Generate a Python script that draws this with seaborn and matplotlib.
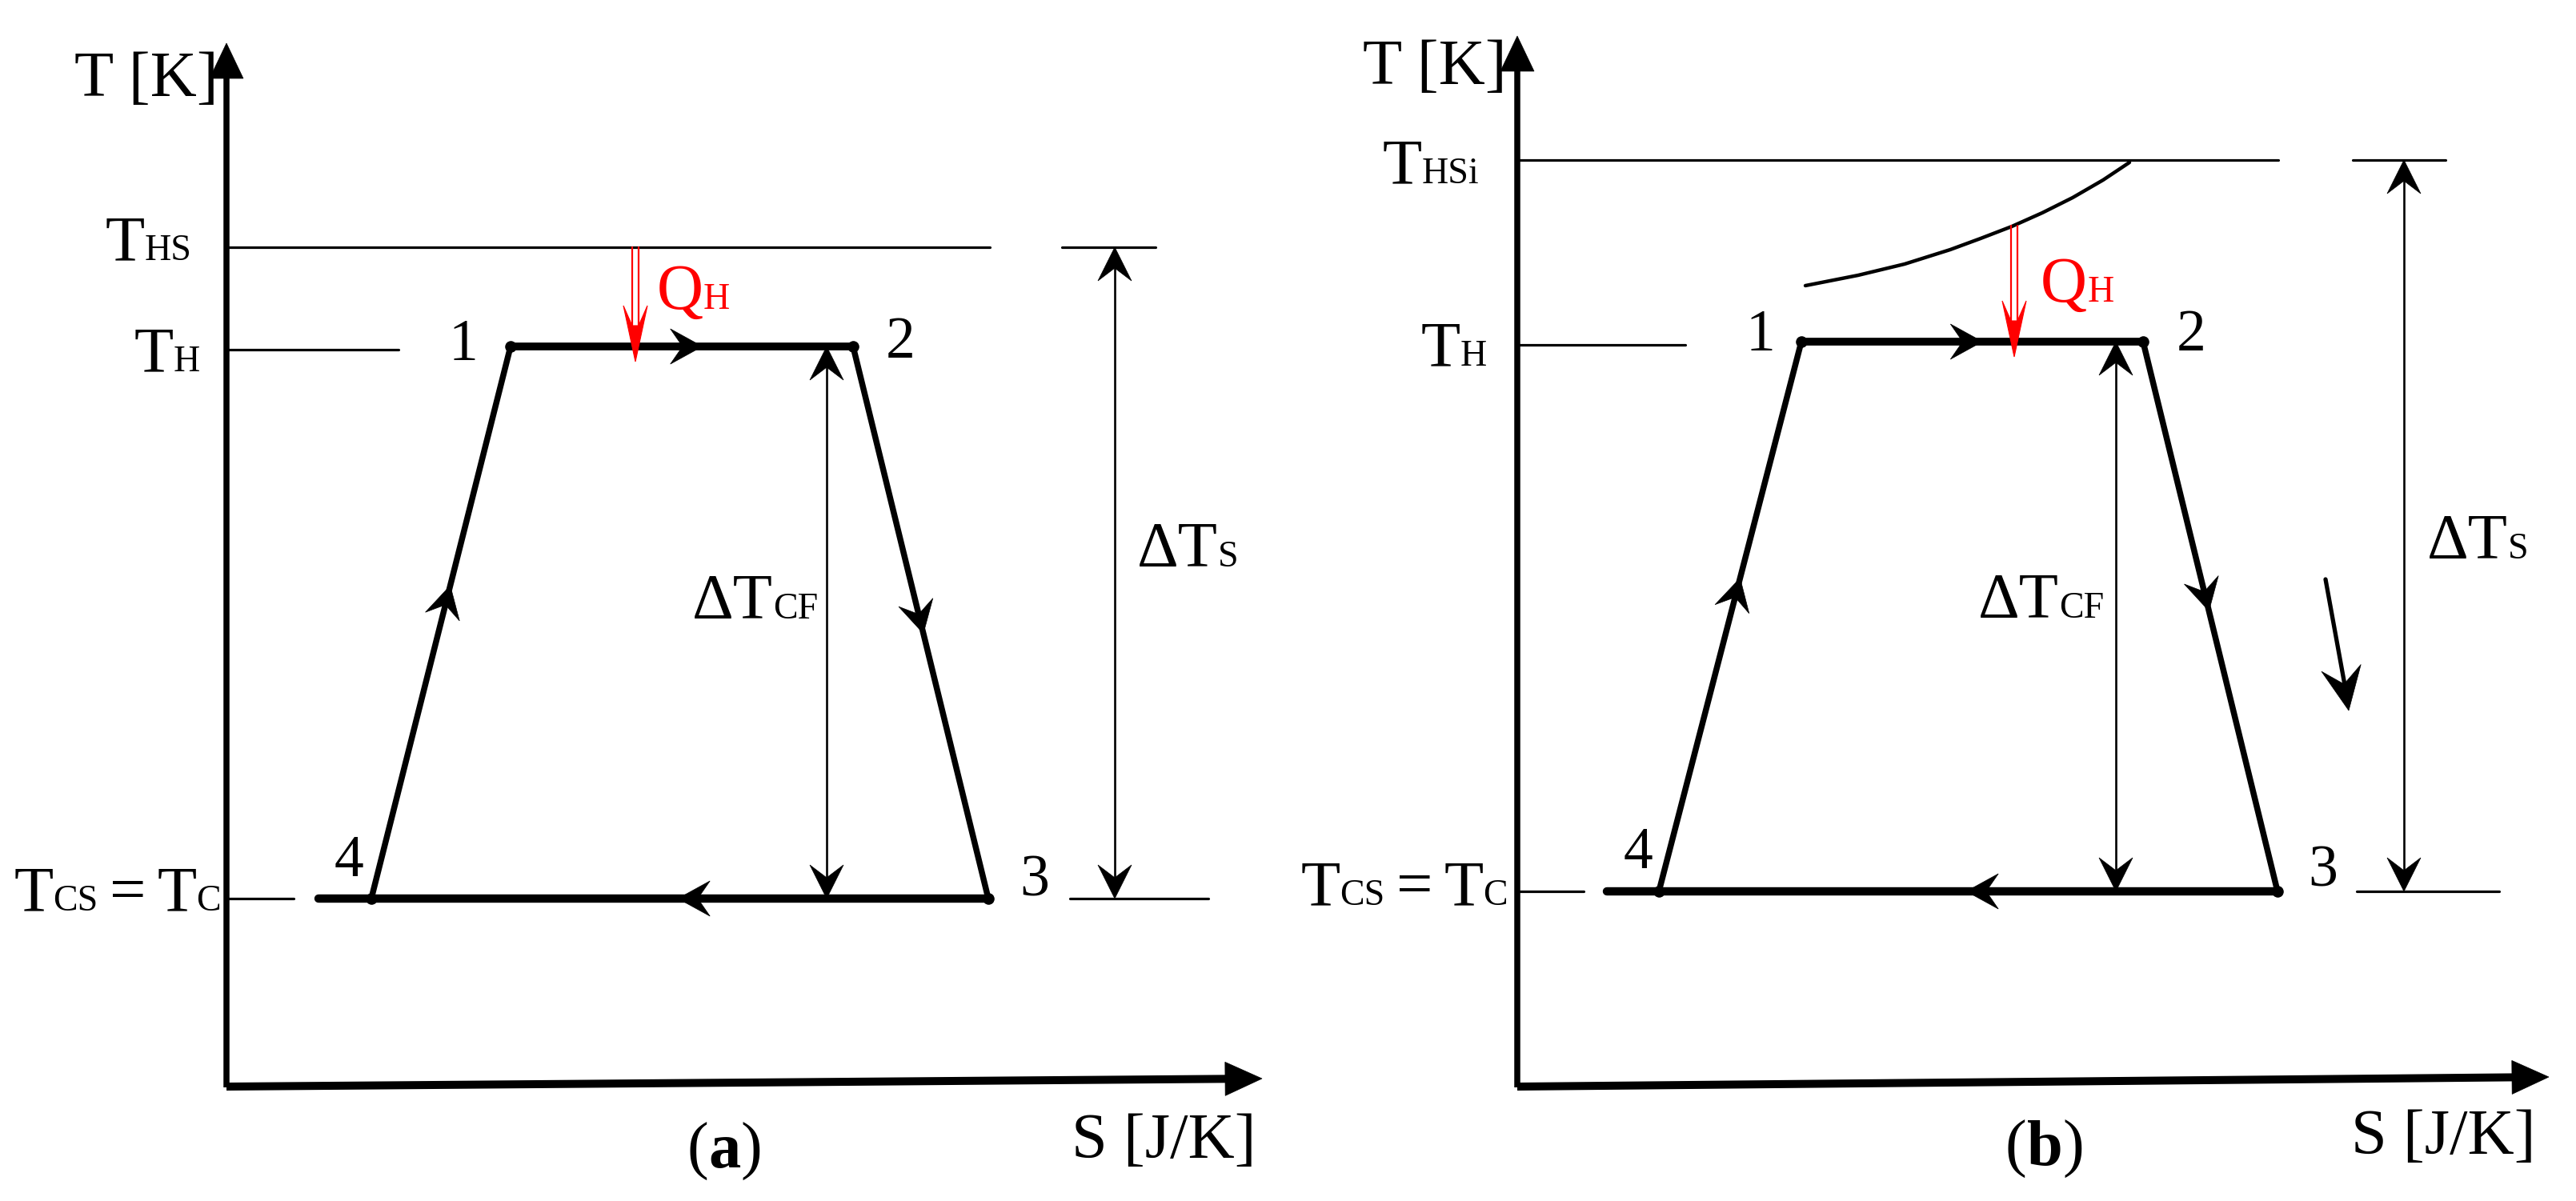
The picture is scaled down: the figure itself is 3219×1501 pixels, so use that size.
import matplotlib
matplotlib.use("Agg")
import matplotlib.pyplot as plt
import numpy as np
import seaborn as sns
from matplotlib.patches import Polygon

sns.set_theme(style="white")
plt.rcParams["font.family"] = ["Liberation Serif", "DejaVu Serif"]

W, H, DPI = 3219, 1501, 100
BIG, SMALL, NUM = 58, 33, 53

# ── Data: state points 1-2-3-4 of the cycle (S, T), schematic units ───────────
S_A = [355, 783, 952, 181]
T_A = [924, 924, 234, 234]
S_B = [355, 782, 950, 177]
T_B = [930, 930, 243, 243]

# heat source temperature (a: constant T_HS, b: inlet T_HSi)
T_HS_A = 1048
T_HSI_B = 1157

# heat source cooling curve in (b)
CURVE_S_B = [360, 426, 484, 541, 579, 618, 656, 694, 732, 765]
CURVE_T_B = [1000, 1013, 1027, 1045, 1059, 1074, 1091, 1110, 1132, 1154]

# ── Layout (canvas px of the S=0,T=0 corner and drawing positions) ────────────
ORIGINS = {"a": (283, 1357), "b": (1896, 1357)}

LAYOUT = {
    "a": dict(S=S_A, T=T_A, t_hot=T_HS_A, hot_sub="HS", hot_end=954,
              hot_tick=(1044, 1161), cold_tick=(1054, 1227), th_end=215,
              tc_line=(3, 84), bottom_start=115, dtcf_s=750, dts_s=1110,
              qh_s=511, y_tip=1303, x_tip=(1294, 9),
              frac=dict(up=0.567, top=0.56, down=0.52, bottom=0.503),
              labels=dict(TK=(-100, 1237), hot=(-43, 1032), TH=(-33, 893),
                          QH=(538, 971), n1=(296, 907), n2=(842, 910),
                          n3=(1010, 238), n4=(153, 262), dTcf=(582, 584),
                          dTs=(1138, 649), TC=(-7, 219), tag=(622, -102),
                          S=(1171, -90))),
    "b": dict(S=S_B, T=T_B, t_hot=T_HSI_B, hot_sub="HSi", hot_end=951,
              hot_tick=(1044, 1160), cold_tick=(1049, 1227), th_end=210,
              tc_line=(1, 83), bottom_start=112, dtcf_s=748, dts_s=1108,
              qh_s=621, y_tip=1312, x_tip=(1289, 11),
              frac=dict(up=0.57, top=0.53, down=0.49, bottom=0.503),
              labels=dict(TK=(-103, 1252), hot=(-48, 1128), TH=(-38, 900),
                          QH=(654, 980), n1=(304, 919), n2=(842, 919),
                          n3=(1007, 250), n4=(151, 272), dTcf=(576, 585),
                          dTs=(1137, 659), TC=(-12, 226), tag=(659, -99),
                          S=(1157, -85))),
}


def stealth(ax, tip, angle, length, width, color="black", notch=0.62, z=5):
    """Arrow head with swept-back barbs, tip pointing along `angle` (deg)."""
    a = np.deg2rad(angle)
    d = np.array([np.cos(a), np.sin(a)])
    n = np.array([-d[1], d[0]])
    tip = np.asarray(tip, float)
    back = tip - d * length
    pts = [tip, back + n * width / 2, tip - d * length * notch, back - n * width / 2]
    ax.add_patch(Polygon(pts, closed=True, fc=color, ec=color, lw=0.5, zorder=z))


def head_on(ax, p, q, frac, length=40, width=44):
    p, q = np.asarray(p, float), np.asarray(q, float)
    tip = p + frac * (q - p)
    ang = np.degrees(np.arctan2(q[1] - p[1], q[0] - p[0]))
    stealth(ax, tip, ang, length, width)


def rich(ax, s, t, parts, ha="left", color="black"):
    """Text pieces on one baseline (subscripts sit on the baseline, smaller)."""
    renderer = ax.figure.canvas.get_renderer()
    arts, widths, gaps = [], [], []
    for part in parts:
        txt, size = part[0], part[1]
        gap = part[2] if len(part) > 2 else 0
        weight = part[3] if len(part) > 3 else "normal"
        art = ax.text(s, t, txt, fontsize=size, fontweight=weight, color=color,
                      va="baseline", ha="left", zorder=7)
        arts.append(art)
        widths.append(art.get_window_extent(renderer).width)
        gaps.append(gap)
    total = sum(widths) + sum(gaps)
    x = s - {"left": 0, "center": total / 2, "right": total}[ha]
    for art, w, g in zip(arts, widths, gaps):
        x += g
        art.set_x(x)
        x += w


def heat_arrow(ax, s, t_top, t_tip, color="#FF0000"):
    half, barb, head_l, neck = 4, 15, 70, 45
    for dx in (-half, half):
        ax.plot([s + dx, s + dx], [t_top, t_tip + neck], color=color, lw=1.6, zorder=6)
    pts = [(s - barb, t_tip + head_l), (s, t_tip), (s + barb, t_tip + head_l),
           (s + half, t_tip + neck), (s - half, t_tip + neck)]
    ax.add_patch(Polygon(pts, closed=True, fc=color, ec=color, lw=0.8, zorder=6))


def draw_panel(ax, key):
    L = LAYOUT[key]
    S, T = L["S"], L["T"]
    t_h, t_c, t_hot = T[0], T[2], L["t_hot"]
    thin = 2.3

    # axes with arrow tips
    ax.plot([0, 0], [-2, L["y_tip"] - 30], color="black", lw=5.4, solid_capstyle="butt")
    stealth(ax, (0, L["y_tip"]), 90, 44, 42, notch=1.0)
    xs, xt = L["x_tip"]
    ang = np.degrees(np.arctan2(xt + 1, xs))
    ax.plot([0, xs - 35], [-1, -1 + (xt + 1) * (xs - 35) / xs], color="black",
            lw=7.2, solid_capstyle="butt")
    stealth(ax, (xs, xt), ang, 46, 42, notch=1.0)

    # temperature levels
    ax.plot([0, L["hot_end"]], [t_hot, t_hot], color="black", lw=thin)
    ax.plot(list(L["hot_tick"]), [t_hot, t_hot], color="black", lw=thin)
    ax.plot([0, L["th_end"]], [t_h - 4, t_h - 4], color="black", lw=thin)
    ax.plot(list(L["tc_line"]), [t_c, t_c], color="black", lw=thin)
    ax.plot(list(L["cold_tick"]), [t_c, t_c], color="black", lw=thin)

    # cycle 1-2-3-4
    sns.lineplot(x=[S[0], S[1]], y=[T[0], T[1]], sort=False, estimator=None,
                 color="black", lw=7, ax=ax)
    sns.lineplot(x=[L["bottom_start"], S[2]], y=[T[3], T[2]], sort=False,
                 estimator=None, color="black", lw=7.5, ax=ax)
    sns.lineplot(x=[S[3], S[0]], y=[T[3], T[0]], sort=False, estimator=None,
                 color="black", lw=5.4, ax=ax)
    sns.lineplot(x=[S[1], S[2]], y=[T[1], T[2]], sort=False, estimator=None,
                 color="black", lw=5.4, ax=ax)
    sns.scatterplot(x=S, y=T, s=110, color="black", linewidth=0, zorder=6, ax=ax)

    f = L["frac"]
    p1, p2, p3, p4 = [(S[i], T[i]) for i in range(4)]
    head_on(ax, p4, p1, f["up"])
    head_on(ax, p1, p2, f["top"])
    head_on(ax, p2, p3, f["down"])
    head_on(ax, p3, p4, f["bottom"])

    # temperature differences
    for s_pos, top in ((L["dtcf_s"], t_h), (L["dts_s"], t_hot)):
        ax.plot([s_pos, s_pos], [t_c + 20, top - 20], color="black", lw=1.9)
        stealth(ax, (s_pos, top), 90, 42, 42)
        stealth(ax, (s_pos, t_c), -90, 42, 42)

    # heat input
    if key == "b":
        sns.lineplot(x=CURVE_S_B, y=CURVE_T_B, sort=False, estimator=None,
                     color="black", lw=3.2, ax=ax)
        q_top = np.interp(L["qh_s"], CURVE_S_B, CURVE_T_B)
        ax.plot([1010, 1036], [633, 490], color="black", lw=3.8)
        stealth(ax, (1039, 469), np.degrees(np.arctan2(469 - 633, 1039 - 1010)), 54, 50)
    else:
        q_top = t_hot
    heat_arrow(ax, L["qh_s"], q_top, t_h - 19)

    lab = L["labels"]
    rich(ax, *lab["TK"], [("T [K]", BIG)], ha="center")
    rich(ax, *lab["hot"], [("T", BIG), (L["hot_sub"], SMALL)], ha="right")
    rich(ax, *lab["TH"], [("T", BIG), ("H", SMALL)], ha="right")
    rich(ax, *lab["QH"], [("Q", BIG), ("H", SMALL)], color="#FF0000")
    for i in range(1, 5):
        rich(ax, *lab[f"n{i}"], [(str(i), NUM)], ha="center")
    rich(ax, *lab["dTcf"], [("\u0394T", BIG), ("CF", SMALL)])
    rich(ax, *lab["dTs"], [("\u0394T", BIG), ("S", SMALL)])
    rich(ax, *lab["TC"], [("T", BIG), ("CS", SMALL), ("=", BIG, 14),
                          ("T", BIG, 14), ("C", SMALL)], ha="right")
    rich(ax, *lab["tag"], [("(", BIG), (key, BIG, 0, "bold"), (")", BIG)], ha="center")
    rich(ax, *lab["S"], [("S [J/K]", BIG)], ha="center")


fig = plt.figure(figsize=(W / DPI, H / DPI), dpi=DPI)
fig.patch.set_facecolor("white")
for key in ("a", "b"):
    ox, oy = ORIGINS[key]
    ax = fig.add_axes([0, 0, 1, 1])
    ax.set_xlim(-ox, W - ox)
    ax.set_ylim(oy - H, oy)
    ax.axis("off")
    draw_panel(ax, key)

fig.savefig("out.png", dpi=DPI, facecolor="white")
